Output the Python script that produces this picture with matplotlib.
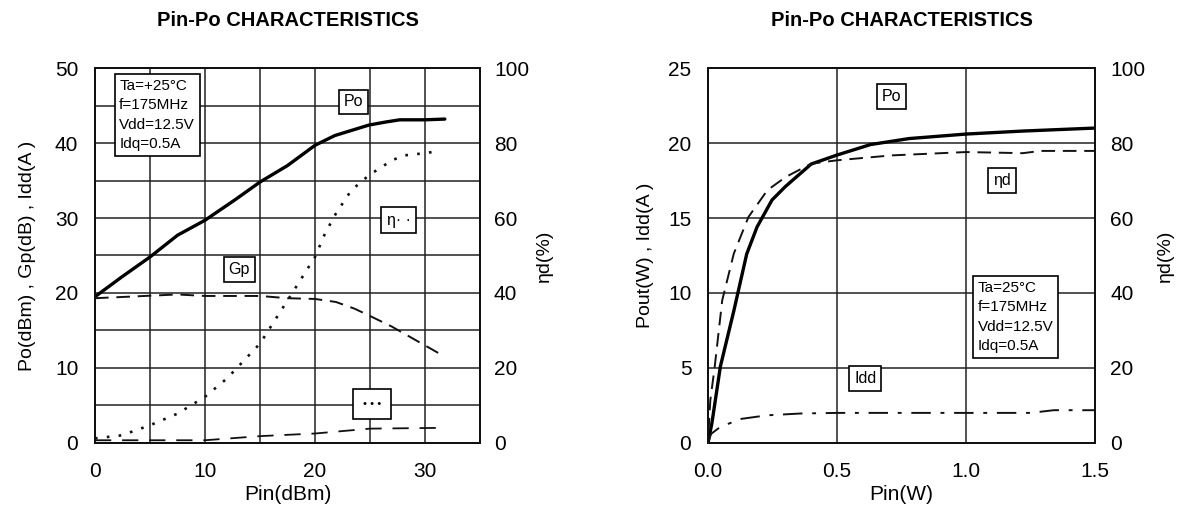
import matplotlib
matplotlib.use("Agg")
import matplotlib.pyplot as plt

plt.rcParams['font.family'] = ['Liberation Sans', 'DejaVu Sans']

# ---------------- Left chart data (Pin in dBm) ----------------
pin_dbm_po = [0, 2.4, 5, 7.5, 10, 12.7, 15, 17.5, 20, 21.8, 24.9, 26.4, 27.7, 30, 31.8]
po_dbm = [19.5, 22.1, 24.8, 27.7, 29.7, 32.4, 34.8, 37.0, 39.7, 41.0, 42.4, 42.8, 43.1, 43.1, 43.2]

pin_dbm_gp = [0, 7.5, 10, 15, 17.5, 20, 21.9, 23.6, 24.9, 27, 30, 31.8]
gp_db = [19.3, 19.8, 19.6, 19.6, 19.3, 19.2, 18.8, 17.9, 17.0, 15.5, 13.0, 11.5]

pin_dbm_eta = [0, 2.4, 5, 7.5, 10, 12, 15, 17.5, 20, 20.9, 21.9, 23.3, 24.9, 27, 28.1, 30, 31.3]
eta_left = [1.2, 2.0, 4.7, 7.8, 12.3, 17.2, 26.5, 38.0, 49.6, 55.8, 61.2, 67.4, 71.4, 75.4, 76.7, 77.3, 77.9]

pin_dbm_idd = [0, 10, 15, 20, 25, 31.3]
idd_left = [0.35, 0.35, 0.9, 1.25, 1.9, 2.0]

left_xticks = [0, 5, 10, 15, 20, 25, 30, 35]
left_xticklabels = ['0', '', '10', '', '20', '', '30', '']
left_yticks = [0, 5, 10, 15, 20, 25, 30, 35, 40, 45, 50]
left_yticklabels = ['0', '', '10', '', '20', '', '30', '', '40', '', '50']
eta_ticks = [0, 20, 40, 60, 80, 100]

# ---------------- Right chart data (Pin in W) ----------------
pin_w_po = [0, 0.015, 0.048, 0.1, 0.15, 0.19, 0.248, 0.30, 0.4, 0.5, 0.63, 0.78, 1.0, 1.22, 1.5]
pout_w = [0, 1.3, 5.1, 8.8, 12.6, 14.4, 16.2, 17.1, 18.6, 19.2, 19.9, 20.3, 20.6, 20.8, 21.0]

pin_w_eta = [0.002, 0.009, 0.026, 0.055, 0.1, 0.157, 0.23, 0.30, 0.4, 0.5, 0.71, 1.0, 1.22, 1.29, 1.5]
eta_right = [3, 11.4, 20.3, 38, 50.5, 60.3, 67.4, 70.9, 74.5, 75.4, 76.7, 77.6, 77.3, 77.9, 77.9]

pin_w_idd = [0, 0.012, 0.048, 0.128, 0.23, 0.36, 0.5, 1.0, 1.25, 1.34, 1.5]
idd_right = [0, 0.6, 1.07, 1.6, 1.84, 1.96, 2.0, 2.0, 2.0, 2.18, 2.18]

right_xticks = [0, 0.5, 1.0, 1.5]
right_xticklabels = ['0.0', '0.5', '1.0', '1.5']
right_yticks = [0, 5, 10, 15, 20, 25]

title_text = 'Pin-Po CHARACTERISTICS'
cond_left = 'Ta=+25°C\nf=175MHz\nVdd=12.5V\nIdq=0.5A'
cond_right = 'Ta=25°C\nf=175MHz\nVdd=12.5V\nIdq=0.5A'

GRID = '#222222'
box = dict(boxstyle='square,pad=0.3', fc='white', ec='black', lw=1.2)

fig = plt.figure(figsize=(11.8, 5.12), dpi=100)

def style_axes(ax, ax2, rpad):
    for a in (ax, ax2):
        for s in a.spines.values():
            s.set_linewidth(1.4)
            s.set_color('#111111')
        a.tick_params(length=0, labelsize=15)
    ax.tick_params(axis='x', pad=14)
    ax.tick_params(axis='y', pad=12)
    ax2.tick_params(axis='y', pad=rpad)
    ax.grid(True, color=GRID, lw=1.1)
    ax.set_axisbelow(True)

# ---------------- Left ----------------
axL = fig.add_axes([0.0805, 0.135, 0.3263, 0.732])
axL2 = axL.twinx()
axL.set_xlim(0, 35)
axL.set_ylim(0, 50)
axL2.set_ylim(0, 100)
axL.set_xticks(left_xticks)
axL.set_xticklabels(left_xticklabels)
axL.set_yticks(left_yticks)
axL.set_yticklabels(left_yticklabels)
axL2.set_yticks(eta_ticks)
style_axes(axL, axL2, 10)

axL.plot(pin_dbm_po, po_dbm, color='black', lw=2.4, solid_capstyle='round')
l, = axL.plot(pin_dbm_gp, gp_db, color='#111111', lw=1.4)
l.set_dashes((7, 4))
l, = axL.plot(pin_dbm_idd, idd_left, color='#111111', lw=1.3)
l.set_dashes((9, 6))
axL2.plot(pin_dbm_eta, eta_left, color='#111111', lw=1.9, linestyle=(0, (1, 3.5)))

axL.set_xlabel('Pin(dBm)', fontsize=15, labelpad=3)
axL.set_ylabel('Po(dBm) , Gp(dB) , Idd(A )', fontsize=14, labelpad=14)
axL2.set_ylabel('ηd(%)', fontsize=14, labelpad=5)
axL.set_title(title_text, fontsize=14.5, fontweight='bold', pad=30)

T = axL.transData
axL2.text(2.2, 48.6, cond_left, transform=T, fontsize=11, va='top', ha='left',
          linespacing=1.5, bbox=box, zorder=10)
axL2.text(23.5, 45.5, 'Po', transform=T, fontsize=11.5, ha='center', va='center', bbox=box, zorder=10)
axL2.text(13.1, 23.1, 'Gp', transform=T, fontsize=11.5, ha='center', va='center', bbox=box, zorder=10)
axL2.text(27.6, 29.7, 'η· ·', transform=T, fontsize=11.5, ha='center', va='center',
          bbox=dict(boxstyle='square,pad=0.35', fc='white', ec='black', lw=1.2), zorder=10)
axL2.text(25.2, 5.2, '• • •', transform=T, fontsize=8, ha='center', va='center',
          bbox=dict(boxstyle='square,pad=0.9', fc='white', ec='black', lw=1.2), zorder=10)

# ---------------- Right ----------------
axR = fig.add_axes([0.6, 0.135, 0.328, 0.732])
axR2 = axR.twinx()
axR.set_xlim(0, 1.5)
axR.set_ylim(0, 25)
axR2.set_ylim(0, 100)
axR.set_xticks(right_xticks)
axR.set_xticklabels(right_xticklabels)
axR.set_yticks(right_yticks)
axR2.set_yticks(eta_ticks)
style_axes(axR, axR2, 11)

axR.plot(pin_w_po, pout_w, color='black', lw=2.4, solid_capstyle='round')
l, = axR.plot(pin_w_idd, idd_right, color='#111111', lw=1.4)
l.set_dashes((10, 5, 2, 5))
l, = axR2.plot(pin_w_eta, eta_right, color='#111111', lw=1.4)
l.set_dashes((7, 4))

axR.set_xlabel('Pin(W)', fontsize=15, labelpad=3)
axR.set_ylabel('Pout(W) , Idd(A )', fontsize=14, labelpad=10)
axR2.set_ylabel('ηd(%)', fontsize=14, labelpad=8)
axR.set_title(title_text, fontsize=14.5, fontweight='bold', pad=30)

T = axR.transData
axR2.text(1.045, 10.8, cond_right, transform=T, fontsize=11, va='top', ha='left',
          linespacing=1.5, bbox=box, zorder=10)
axR2.text(0.711, 23.1, 'Po', transform=T, fontsize=11.5, ha='center', va='center', bbox=box, zorder=10)
axR2.text(1.14, 17.5, 'ηd', transform=T, fontsize=11.5, ha='center', va='center', bbox=box, zorder=10)
axR2.text(0.61, 4.3, 'Idd', transform=T, fontsize=11.5, ha='center', va='center', bbox=box, zorder=10)

fig.savefig('out.png', dpi=100)
